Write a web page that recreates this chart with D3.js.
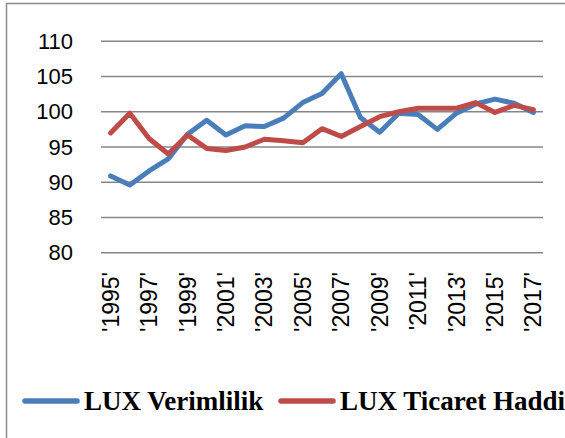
<!DOCTYPE html>
<html>
<head>
<meta charset="utf-8">
<script src="https://cdn.jsdelivr.net/npm/d3@7"></script>
<style>
  body { margin: 0; background: #fff; }
  .grid line { stroke: #868686; stroke-width: 1.5; }
  .tick text { font-family: "Liberation Sans", Arial, sans-serif; fill: #000; }
  .legend text { font-family: "Liberation Serif", "Times New Roman", serif; font-weight: bold; }
</style>
</head>
<body>
<div id="chart"></div>
<script>
// data
var years = ["1995","1996","1997","1998","1999","2000","2001","2002","2003","2004","2005","2006",
             "2007","2008","2009","2010","2011","2012","2013","2014","2015","2016","2017"];
var verimlilik = [90.9, 89.6, 91.6, 93.3, 96.8, 98.8, 96.7, 98.0, 97.9, 99.1, 101.3, 102.6,
                  105.4, 99.2, 97.1, 99.8, 99.6, 97.5, 99.8, 101.1, 101.8, 101.2, 99.9];
var ticaretHaddi = [97.0, 99.8, 96.2, 94.0, 96.7, 94.8, 94.5, 95.0, 96.1, 95.9, 95.6, 97.6,
                    96.5, 97.9, 99.3, 100.0, 100.5, 100.5, 100.5, 101.3, 99.9, 100.9, 100.3];
var yTicks = [80, 85, 90, 95, 100, 105, 110];
var seriesNames = ["LUX Verimlilik", "LUX Ticaret Haddi"];
var colors = ["#4A7EBB", "#BE4B48"];

function init()
{
    var w = 565;
    var h = 438;

    var svg = d3.select("#chart")
        .append("svg")
        .attr("width", w)
        .attr("height", h);

    // outer frame
    svg.append("rect")
        .attr("x", 6.5)
        .attr("y", 3.5)
        .attr("width", w + 10)
        .attr("height", h + 10)
        .attr("fill", "none")
        .attr("stroke", "#8c8c8c")
        .attr("stroke-width", 1.5);

    var xScale = d3.scaleBand()
        .domain(years)
        .range([101, 543]);

    var yScale = d3.scaleLinear()
        .domain([80, 110])
        .range([252.7, 41.3]);

    // gridlines
    svg.append("g")
        .attr("class", "grid")
        .selectAll("line")
        .data(yTicks)
        .enter()
        .append("line")
        .attr("x1", 101)
        .attr("x2", 543)
        .attr("y1", function(d) { return yScale(d); })
        .attr("y2", function(d) { return yScale(d); });

    // y axis labels
    var yAxis = d3.axisLeft(yScale)
        .tickValues(yTicks)
        .tickSize(0)
        .tickPadding(0);
    var gy = svg.append("g")
        .attr("transform", "translate(73,0)")
        .call(yAxis);
    gy.select(".domain").remove();
    gy.selectAll("text").style("font-size", "22px");

    // x axis labels, every other year, rotated
    var xAxis = d3.axisBottom(xScale)
        .tickValues(years.filter(function(d, i) { return i % 2 === 0; }))
        .tickFormat(function(d) { return "'" + d + "'"; })
        .tickSize(0);
    var gx = svg.append("g")
        .attr("transform", "translate(0,272)")
        .call(xAxis);
    gx.select(".domain").remove();
    gx.selectAll("text")
        .style("font-size", "23px")
        .attr("transform", "rotate(-90)")
        .attr("text-anchor", "end")
        .attr("x", 0)
        .attr("y", 0)
        .attr("dy", "0.35em");

    var line = d3.line()
        .x(function(d, i) { return xScale(years[i]) + xScale.bandwidth() / 2; })
        .y(function(d) { return yScale(d); });

    [verimlilik, ticaretHaddi].forEach(function(s, k) {
        svg.append("path")
            .datum(s)
            .attr("fill", "none")
            .attr("stroke", colors[k])
            .attr("stroke-width", 5)
            .attr("stroke-linejoin", "round")
            .attr("stroke-linecap", "round")
            .attr("d", line);
    });

    // legend
    var legend = svg.append("g").attr("class", "legend");
    var legX = [25, 281];
    seriesNames.forEach(function(name, k) {
        legend.append("line")
            .attr("x1", legX[k])
            .attr("x2", legX[k] + 52)
            .attr("y1", 401)
            .attr("y2", 401)
            .attr("stroke", colors[k])
            .attr("stroke-width", 5.5)
            .attr("stroke-linecap", "round");
        legend.append("text")
            .attr("x", legX[k] + 59)
            .attr("y", 410)
            .style("font-size", "27px")
            .text(name);
    });
}

window.onload = init;
</script>
</body>
</html>
